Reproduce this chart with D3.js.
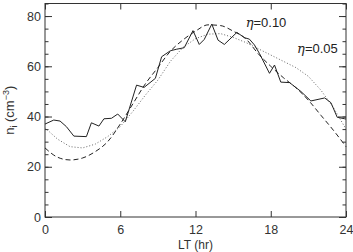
<!DOCTYPE html>
<html lang="en">
<head>
<meta charset="UTF-8">
<title>n_i vs LT</title>
<script src="https://d3js.org/d3.v7.min.js"></script>
<style>
  body { margin: 0; background: #fff; }
  svg { font-family: "Liberation Sans", Arial, sans-serif; }
  .tick text { fill: #333; }
</style>
</head>
<body>
<svg id="chart" width="353" height="252"></svg>
<script>
// observed ion density (solid)
const obsHours = [0, 0.7, 1.2, 1.7, 2.3, 3.3, 3.7, 4.3, 4.7, 5.3, 5.8, 6.4, 7.3, 7.9, 8.8, 9.3, 10.0, 10.5, 11.1, 11.8, 12.3, 12.7, 13.3, 13.8, 14.3, 15.3, 15.9, 16.3, 16.7, 17.1, 17.9, 18.3, 18.8, 19.5, 20.4, 21.2, 22.3, 22.8, 23.3, 23.9, 24];
const obsValues = [37, 38.6, 38.2, 36, 32.2, 32, 37.5, 36.2, 39.1, 39.3, 41, 37.9, 52.5, 51.6, 55.2, 63.8, 66.2, 66.8, 67.4, 74.2, 68.7, 70.7, 76.8, 70.4, 68.7, 73.5, 71.4, 70.8, 68.5, 65.1, 57.2, 60.5, 53.7, 53.5, 50, 46.2, 47.4, 45.5, 39.7, 39.1, 39];

// model curves, hourly
const modelHours = d3.range(0, 25);
const eta10 = [27.5, 23.8, 22.7, 23.5, 26, 30, 37, 45, 53, 59.5, 66, 70.5, 74, 76.5, 76.2, 74, 71, 65, 60, 55.5, 51.5, 46.5, 40.5, 34.5, 28];
const eta05 = [35.5, 31, 28, 27.5, 29, 32, 36, 42, 48.5, 54.5, 62, 67.5, 71, 72.8, 73, 71.5, 69.5, 67, 64.5, 62, 59.5, 56, 50.5, 43.5, 35];

const xTicks = [0, 6, 12, 18, 24];
const yTicks = [0, 20, 40, 60, 80];

const margin = { top: 3.5, right: 7, bottom: 35, left: 45 };
const W = 353, H = 252;
const w = W - margin.left - margin.right;
const h = H - margin.top - margin.bottom;

const svg = d3.select("#chart");
const g = svg.append("g").attr("transform", `translate(${margin.left},${margin.top})`);

const x = d3.scaleLinear().domain([0, 24]).range([0, w]);
const y = d3.scaleLinear().domain([0, 85]).range([h, 0]);

const axisColor = "#333";

// frame
g.append("rect").attr("width", w).attr("height", h)
  .attr("fill", "none").attr("stroke", axisColor).attr("stroke-width", 1);

// bottom axis
g.append("g").attr("transform", `translate(0,${h})`)
  .call(d3.axisBottom(x).tickValues(xTicks).tickSize(-6).tickPadding(8));
// left axis
g.append("g")
  .call(d3.axisLeft(y).tickValues(yTicks).tickSize(-7).tickPadding(4));
// minor y ticks
g.append("g")
  .call(d3.axisLeft(y).tickValues(d3.range(0, 86, 5)).tickSize(-3.5).tickFormat(""));
// right axis
g.append("g").attr("transform", `translate(${w},0)`)
  .call(d3.axisRight(y).tickValues(yTicks).tickSize(-7).tickFormat(""));
g.append("g").attr("transform", `translate(${w},0)`)
  .call(d3.axisRight(y).tickValues(d3.range(0, 86, 5)).tickSize(-3.5).tickFormat(""));
// top axis
g.append("g")
  .call(d3.axisTop(x).tickValues(xTicks).tickSize(-6).tickFormat(""));

g.selectAll(".domain").remove();
g.selectAll(".tick line").attr("stroke", axisColor);
g.selectAll(".tick text").attr("font-size", 12.5).attr("font-family", "Liberation Sans, Arial, sans-serif");

// curves
const line = (xs) => d3.line().x((d, i) => x(xs[i])).y(d => y(d));
g.append("path").attr("d", line(modelHours)(eta05))
  .attr("fill", "none").attr("stroke", "#666").attr("stroke-width", 1).attr("stroke-dasharray", "1,2");
g.append("path").attr("d", d3.line().curve(d3.curveMonotoneX).x((d, i) => x(modelHours[i])).y(d => y(d))(eta10))
  .attr("fill", "none").attr("stroke", "#222").attr("stroke-width", 1).attr("stroke-dasharray", "5,3");
g.append("path").attr("d", line(obsHours)(obsValues))
  .attr("fill", "none").attr("stroke", "#222").attr("stroke-width", 1);

// labels
const lbl = (tx, ty, val) => {
  const t = g.append("text").attr("x", x(tx)).attr("y", y(ty)).attr("font-size", 13).attr("fill", "#222");
  t.append("tspan").attr("font-family", "DejaVu Serif, serif").attr("font-style", "italic").text("η");
  t.append("tspan").text("=" + val);
};
lbl(16, 75.5, "0.10");
lbl(20.1, 65.2, "0.05");

// axis titles
svg.append("text").attr("x", margin.left + w / 2).attr("y", 249)
  .attr("text-anchor", "middle").attr("font-size", 12).attr("fill", "#333").text("LT (hr)");
const yt = svg.append("text")
  .attr("transform", `translate(14,${margin.top + h / 2}) rotate(-90)`)
  .attr("text-anchor", "middle").attr("font-size", 13).attr("fill", "#333");
yt.append("tspan").text("n");
yt.append("tspan").attr("font-size", 9).attr("dy", 3).text("i");
yt.append("tspan").attr("dy", -3).text(" (cm");
yt.append("tspan").attr("font-size", 9).attr("dy", -5).text("−3");
yt.append("tspan").attr("dy", 5).text(")");
</script>
</body>
</html>
